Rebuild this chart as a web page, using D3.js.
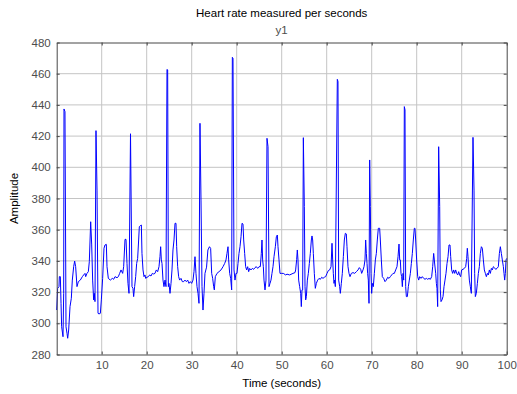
<!DOCTYPE html>
<html>
<head>
<meta charset="utf-8">
<script src="https://cdn.jsdelivr.net/npm/d3@7/dist/d3.min.js"></script>
<style>
  html, body { margin: 0; padding: 0; background: #fff; }
  svg { display: block; font-family: "Liberation Sans", Arial, sans-serif; }
</style>
</head>
<body>
<svg id="chart" width="517" height="394"></svg>
<script>
// Sample times (seconds) and measured amplitude of the y1 signal
const time = [
  0.00,0.21,0.51,0.59,0.81,0.96,1.10,1.40,1.55,1.62,1.84,2.07,2.29,2.44,2.66,2.96,3.25,3.47,3.77,3.99,
  4.21,4.51,4.81,5.25,5.70,5.99,6.29,6.44,6.73,7.03,7.25,7.55,7.77,7.99,8.21,8.36,8.51,8.73,8.96,9.18,
  9.40,9.70,9.92,10.21,10.51,10.73,11.03,11.18,11.47,11.92,12.36,12.66,12.96,13.40,13.70,13.99,14.29,14.66,14.88,15.18,
  15.40,15.62,15.84,16.07,16.40,16.73,16.95,17.10,17.32,17.55,17.77,17.99,18.21,18.36,18.58,18.81,18.95,19.18,19.40,19.62,
  19.77,20.07,20.36,20.66,20.95,21.25,21.55,21.84,22.14,22.44,22.73,22.95,23.10,23.25,23.40,23.62,23.84,24.07,24.29,24.51,
  24.66,24.81,24.95,25.18,25.40,25.62,25.84,26.07,26.29,26.51,26.66,26.88,27.10,27.32,27.62,27.92,28.21,28.51,28.81,29.10,
  29.40,29.70,29.99,30.29,30.51,30.73,30.95,31.18,31.40,31.62,31.84,32.07,32.29,32.51,32.73,32.95,33.30,33.60,33.95,34.21,
  34.44,34.66,34.88,35.03,35.25,35.62,36.07,36.51,36.96,37.33,37.62,37.84,38.07,38.21,38.44,38.66,38.88,39.03,39.18,39.40,
  39.62,39.84,40.07,40.29,40.51,40.73,40.96,41.18,41.40,41.55,41.77,41.99,42.21,42.44,42.66,42.88,43.18,43.47,43.77,44.07,
  44.36,44.66,44.96,45.25,45.47,45.62,45.77,45.92,46.07,46.29,46.51,46.73,46.96,47.18,47.40,47.62,47.84,48.07,48.29,48.59,
  48.81,49.03,49.18,49.40,49.62,49.99,50.36,50.88,51.18,51.77,52.51,52.96,53.10,53.33,53.47,53.62,53.77,53.99,54.22,54.36,
  54.51,54.66,54.81,55.03,55.18,55.33,55.48,55.70,55.92,56.14,56.36,56.59,56.73,56.88,57.03,57.25,57.47,57.70,57.99,58.29,
  58.59,58.88,59.18,59.47,59.77,60.07,60.36,60.66,60.96,61.18,61.33,61.47,61.62,61.77,61.92,62.36,62.51,62.66,62.88,63.03,
  63.25,63.47,63.70,63.92,64.14,64.36,64.51,64.73,64.96,65.18,65.47,65.84,66.22,66.59,66.96,67.25,67.55,67.77,68.07,68.29,
  68.51,68.66,68.81,68.96,69.10,69.25,69.40,69.55,69.70,69.85,69.99,70.14,70.36,70.59,70.81,71.03,71.25,71.47,71.77,71.92,
  72.14,72.36,72.66,72.96,73.25,73.55,73.85,74.14,74.44,74.74,75.03,75.33,75.62,75.85,76.07,76.22,76.36,76.51,76.66,76.81,
  76.96,77.11,77.25,77.40,77.55,77.70,77.92,78.14,78.36,78.59,78.81,79.03,79.25,79.47,79.62,79.77,79.99,80.22,80.44,80.66,
  80.96,81.25,81.55,81.85,82.14,82.44,82.74,83.03,83.33,83.55,83.77,83.92,84.00,84.22,84.37,84.51,84.66,84.88,85.11,85.25,
  85.40,85.62,85.85,86.07,86.29,86.51,86.74,86.96,87.18,87.40,87.55,87.77,87.99,88.22,88.44,88.66,88.88,89.11,89.33,89.55,
  89.77,89.99,90.29,90.59,90.88,91.11,91.25,91.40,91.55,91.70,91.92,92.14,92.51,92.74,92.88,93.03,93.25,93.48,93.70,93.92,
  94.14,94.37,94.59,94.81,95.03,95.26,95.48,95.70,95.92,96.14,96.37,96.59,96.81,97.03,97.26,97.55,97.85,98.14,98.37,98.59,
  98.81,99.03,99.26,99.40,99.55,99.70,99.85,100.0
];
const amplitude = [
  308.5,322.4,323.5,329.9,329.9,312.8,297.8,291.4,319.2,437.4,435.7,297.8,293.6,290.4,295.7,310.7,316.0,327.7,336.3,339.9,
  336.3,323.5,326.7,327.7,329.9,331.0,332.0,329.9,332.0,333.1,339.5,365.1,350.8,327.7,315.0,319.2,313.9,423.5,385.4,306.4,
  306.0,306.4,315.0,328.8,348.1,350.2,350.6,336.3,328.8,327.7,328.8,328.2,329.9,329.2,329.9,332.0,334.2,332.0,336.3,353.8,
  353.8,338.4,325.6,319.2,421.5,323.5,322.4,317.1,323.5,329.9,338.4,341.6,353.4,361.9,362.6,363.0,344.8,334.2,329.9,331.0,
  328.8,329.5,329.9,331.0,330.3,332.0,331.6,332.0,334.2,333.1,336.3,342.7,349.1,340.6,338.4,327.7,323.5,327.7,323.5,462.8,
  462.4,323.5,325.6,319.2,325.6,334.2,347.0,353.4,364.1,364.1,349.1,336.3,329.9,327.7,328.8,326.7,326.7,327.7,326.7,327.7,
  325.6,326.7,325.6,327.7,333.1,342.7,332.0,323.5,319.2,312.8,428.2,379.0,323.5,308.5,319.2,332.0,336.0,347.0,349.1,348.0,
  332.0,328.8,323.5,321.4,329.9,332.0,333.1,334.2,336.3,338.4,340.6,344.8,349.1,340.6,332.0,328.8,321.4,470.5,469.8,334.2,
  327.7,332.0,332.0,338.4,344.8,349.1,355.5,364.1,363.6,353.4,344.8,336.3,334.2,336.3,333.1,335.2,334.2,335.2,334.6,335.7,
  336.3,335.2,336.3,336.3,344.8,353.4,340.6,336.3,327.7,321.4,327.7,418.6,413.2,323.5,325.6,327.7,332.0,336.3,342.7,349.1,
  355.5,356.6,349.1,340.6,332.0,332.0,332.0,331.0,331.5,331.0,332.0,332.5,334.2,341.0,347.0,340.6,327.7,323.5,319.2,310.7,
  321.4,321.4,419.0,374.8,323.5,315.0,317.1,327.7,332.0,338.4,344.8,353.4,356.0,353.4,344.8,332.0,322.4,325.6,327.7,328.8,
  328.2,329.5,328.8,329.5,329.9,332.0,333.8,334.2,336.3,351.3,340.6,332.0,325.6,327.7,323.5,456.4,455.0,327.7,323.5,319.2,
  325.6,332.0,342.7,353.4,357.7,357.3,349.1,336.3,332.0,329.9,332.0,332.5,332.0,333.1,334.2,335.7,334.6,332.0,334.2,336.3,
  340.6,353.4,344.8,338.4,332.0,327.7,312.8,404.7,374.8,332.0,319.2,325.6,323.5,332.0,340.6,344.8,353.4,360.9,360.9,353.4,
  340.6,329.9,328.8,326.7,327.7,329.5,328.8,329.9,331.0,332.0,332.0,334.2,336.3,342.7,350.8,340.6,340.6,332.0,329.9,323.5,
  332.0,327.7,438.9,436.8,323.5,317.1,317.1,323.5,327.7,332.0,338.4,344.8,353.4,360.9,360.9,353.4,340.6,329.9,327.7,329.9,
  328.8,329.9,328.8,328.2,328.8,328.2,328.8,328.2,329.9,336.3,344.8,340.6,338.0,332.0,325.6,322.4,310.7,413.2,374.8,321.4,
  313.9,315.0,317.1,323.5,327.7,332.0,338.4,342.7,350.2,350.2,342.7,334.2,332.0,334.2,332.0,334.2,332.0,331.0,333.1,331.0,
  329.9,334.2,334.6,335.2,336.3,341.6,348.1,342.7,334.2,327.7,323.5,319.2,419.2,385.4,332.0,317.1,319.2,325.6,332.0,336.3,
  344.8,349.1,348.1,340.6,334.2,332.0,329.9,332.0,331.0,334.2,332.0,335.2,334.2,336.3,335.7,334.6,335.2,336.3,344.8,349.1,
  344.8,340.6,336.3,332.0,327.7,332.0,340.6,341.6
];
const xTicks = [10, 20, 30, 40, 50, 60, 70, 80, 90, 100];
const yTicks = [280, 300, 320, 340, 360, 380, 400, 420, 440, 460, 480];
const titleText = "Heart rate measured per seconds";
const seriesName = "y1";
const xLabel = "Time (seconds)";
const yLabel = "Amplitude";

const svg = d3.select("#chart");
const margin = { left: 56.7, right: 517 - 506.7, top: 42.5, bottom: 394 - 354.5 };
const W = 517, H = 394;
const x = d3.scaleLinear().domain([0, 100]).range([margin.left, W - margin.right]);
const y = d3.scaleLinear().domain([280, 480]).range([H - margin.bottom, margin.top]);

const axisColor = "#474747";
const gridColor = "#c4c4c4";

// grid lines
const grid = svg.append("g");
grid.selectAll("line.gx").data(xTicks.filter(d => d < 100)).join("line")
  .attr("x1", d => x(d)).attr("x2", d => x(d))
  .attr("y1", y(280)).attr("y2", y(480))
  .attr("stroke", gridColor).attr("stroke-width", 1);
grid.selectAll("line.gy").data(yTicks.filter(d => d > 280 && d < 480)).join("line")
  .attr("x1", x(0)).attr("x2", x(100))
  .attr("y1", d => y(d)).attr("y2", d => y(d))
  .attr("stroke", gridColor).attr("stroke-width", 1);

// signal trace
const pts = time.map((t, i) => [t, amplitude[i]]);
svg.append("path")
  .datum(pts)
  .attr("fill", "none")
  .attr("stroke", "#0000ff")
  .attr("stroke-width", 1)
  .attr("stroke-linejoin", "round")
  .attr("d", d3.line().x(d => x(d[0])).y(d => y(d[1])));

// axes (ticks point inward, box on all sides)
function styleAxis(g, showLabels) {
  g.selectAll(".domain").attr("stroke", axisColor).attr("stroke-width", 1);
  g.selectAll(".tick line").attr("stroke", axisColor);
  g.selectAll(".tick text").attr("fill", "#4d4d4d")
    .style("font-size", "11.5px")
    .style("font-family", "'Liberation Sans', Arial, sans-serif")
    .style("display", showLabels ? null : "none");
}
svg.append("g").attr("transform", `translate(0,${y(280)})`)
  .call(d3.axisBottom(x).tickValues(xTicks).tickSize(-3).tickPadding(6).tickSizeOuter(0))
  .call(g => styleAxis(g, true));
svg.append("g").attr("transform", `translate(0,${y(480)})`)
  .call(d3.axisTop(x).tickValues(xTicks).tickSize(-3).tickSizeOuter(0))
  .call(g => styleAxis(g, false));
svg.append("g").attr("transform", `translate(${x(0)},0)`)
  .call(d3.axisLeft(y).tickValues(yTicks).tickSize(-3).tickPadding(6).tickSizeOuter(0))
  .call(g => styleAxis(g, true));
svg.append("g").attr("transform", `translate(${x(100)},0)`)
  .call(d3.axisRight(y).tickValues(yTicks).tickSize(-3).tickSizeOuter(0))
  .call(g => styleAxis(g, false));

// titles
const cx = (x(0) + x(100)) / 2;
svg.append("text").attr("x", cx).attr("y", 17).attr("text-anchor", "middle")
  .attr("fill", "#000").style("font-size", "11.5px").text(titleText);
svg.append("text").attr("x", cx).attr("y", 34).attr("text-anchor", "middle")
  .attr("fill", "#4d4d4d").style("font-size", "11.5px").text(seriesName);
svg.append("text").attr("x", cx).attr("y", 387).attr("text-anchor", "middle")
  .attr("fill", "#000").style("font-size", "11.5px").text(xLabel);
svg.append("text")
  .attr("transform", `translate(18,${(y(280) + y(480)) / 2}) rotate(-90)`)
  .attr("text-anchor", "middle")
  .attr("fill", "#000").style("font-size", "11.5px").text(yLabel);
</script>
</body>
</html>
